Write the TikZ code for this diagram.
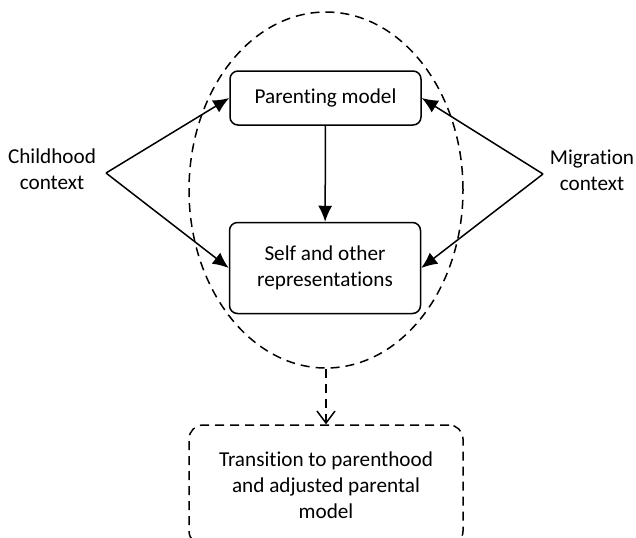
\documentclass[tikz,border=0pt]{standalone}
\usepackage{fontspec}
\setmainfont{Carlito}[Ligatures=NoCommon]
\usetikzlibrary{shapes.geometric,arrows.meta}

\tikzset{
	box/.style={draw, rounded corners=4pt, align=center, inner sep=0pt, minimum width=95.5pt},
	dashline/.style={dash pattern=on 4.5pt off 3pt},
	label/.style={align=center}
}

\begin{document}
\begin{tikzpicture}[x=0.5pt, y=-0.5pt, >={Latex[length=8pt,width=7pt]}, line width=0.75pt, font=\fontsize{10.6}{13}\selectfont]
	\useasboundingbox (0,0) rectangle (636,537);
	\node[ellipse, draw, dashline, inner sep=0pt, minimum width=137pt, minimum height=178pt] (ring) at (326,190) {};
	\node[box, minimum height=27pt] (parent) at (325.5,98) {Parenting model};
	\node[box, minimum height=45.5pt] (self) at (325,268) {Self and other\\representations};
	\node[box, dashline, rounded corners=7pt, minimum width=137pt, minimum height=60pt] (trans) at (326,485) {Transition to parenthood\\and adjusted parental\\model};
	\node[label] (child) at (52,169) {Childhood\\context};
	\node[label] (migr) at (592,170) {Migration\\context};
	\coordinate (ca) at (106,173);
	\coordinate (ma) at (543,174);
	\draw[->] (ca) -- (parent.west);
	\draw[->] (ca) -- (self.west);
	\draw[->] (ma) -- (parent.east);
	\draw[->] (ma) -- (self.east);
	\draw[->] (parent) -- (self);
	\draw[dashline, -{Straight Barb[length=6pt,width=9pt]}] (ring.south) -- (trans.north);
\end{tikzpicture}
\end{document}
